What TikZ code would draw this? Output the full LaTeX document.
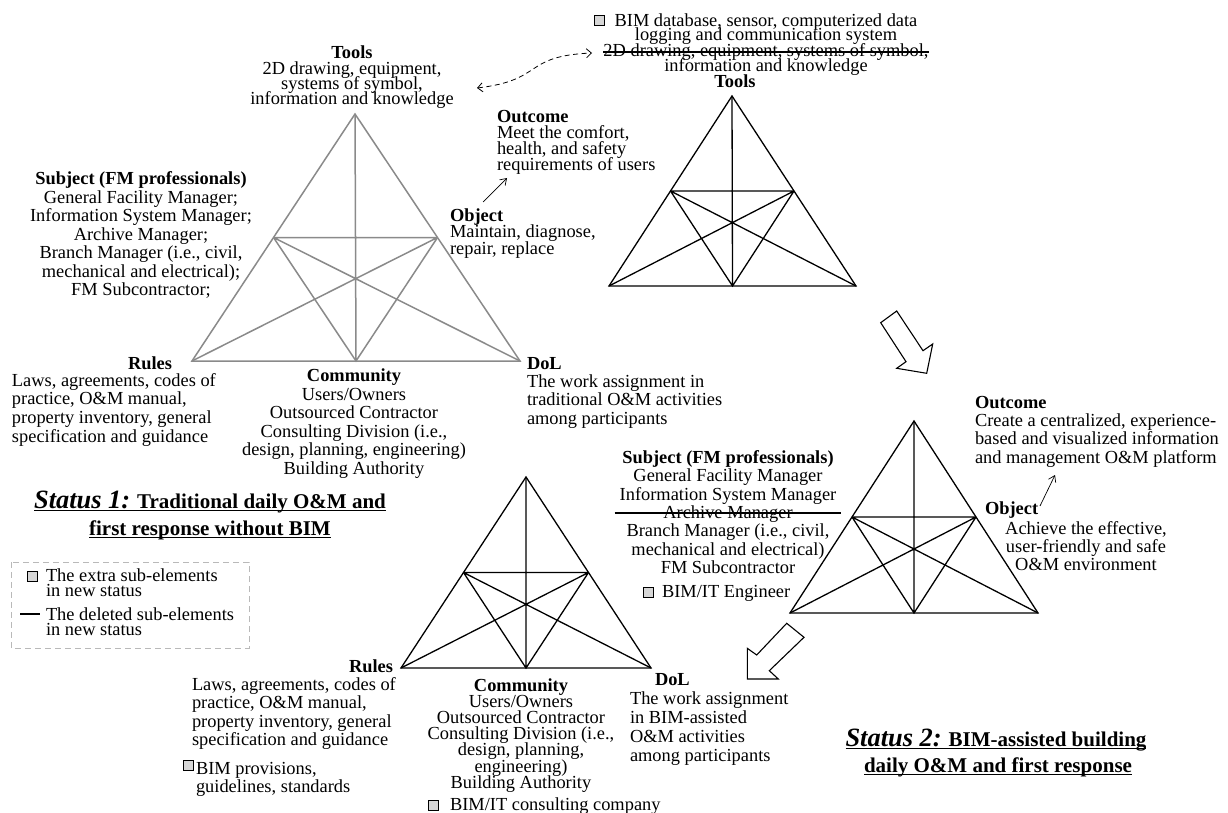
\documentclass[tikz,border=0pt]{standalone}
\usepackage{fontspec}
\setmainfont{Liberation Serif}
\usetikzlibrary{calc,arrows.meta}

\definecolor{trigrey}{RGB}{138,138,138}
\definecolor{boxgrey}{RGB}{215,215,215}
\definecolor{legendgrey}{RGB}{185,185,185}

% force the requested line spacing even for tightly set lines
\newcommand\tightlines{\lineskiplimit=-100pt\relax}

% activity-system triangle: outer triangle, mid-side triangle, medians
\newcommand\activitytri[5]{%
  \coordinate (#1T) at (#3);
  \coordinate (#1L) at (#4);
  \coordinate (#1R) at (#5);
  \coordinate (#1ml) at ($(#1T)!0.5!(#1L)$);
  \coordinate (#1mr) at ($(#1T)!0.5!(#1R)$);
  \coordinate (#1mb) at ($(#1L)!0.5!(#1R)$);
  \draw[#2] (#1T) -- (#1L) -- (#1R) -- cycle;
  \draw[#2] (#1ml) -- (#1mr) (#1T) -- (#1mb)
            (#1ml) -- (#1mb) -- (#1mr)
            (#1ml) -- (#1R) (#1mr) -- (#1L);
}

\tikzset{
  blk/.style={inner sep=0pt, outer sep=0pt, font=\fontsize{18.4}{#1}\selectfont\tightlines},
  blk/.default=18.4,
  tri/.style={line width=1.3pt, line join=miter, draw=black},
  trig/.style={line width=1.5pt, line join=miter, draw=trigrey},
  addbox/.style={draw=black, fill=boxgrey, line width=0.7pt, minimum size=10pt, inner sep=0pt},
  strike/.style={line width=2pt},
  ttl/.style={inner sep=0pt, outer sep=0pt, font=\fontsize{21}{26}\selectfont\bfseries},
  uline/.style={line width=1.3pt},
  smallarr/.style={-{Straight Barb[length=6pt,width=8pt]}, line width=0.7pt},
  bigarr/.style={draw=black, fill=white, line width=1.1pt, line join=miter},
  legend/.style={draw=legendgrey, line width=1pt, dash pattern=on 6pt off 4pt},
}

\begin{document}
\begin{tikzpicture}[x=1pt,y=-1pt]
\useasboundingbox (0,0) rectangle (1228,813);

% ---------------- Status 1: traditional O&M ----------------
\activitytri{a}{trig}{355,114}{192,361}{520,361}

\node[blk=15.4, align=center, anchor=north] (tools1) at (352,46)
  {\textbf{Tools}\\2D drawing, equipment,\\systems of symbol,\\information and knowledge};
\node[blk=18.5, align=center, anchor=north] (subj1) at (141,172)
  {\textbf{Subject (FM professionals)}\\General Facility Manager;\\Information System Manager;\\Archive Manager;\\Branch Manager (i.e., civil,\\mechanical and electrical);\\FM Subcontractor;};
\node[blk, anchor=base] (rules1h) at (150,369) {\textbf{Rules}};
\node[blk=18.6, align=left, anchor=north west] (rules1) at (12,373.4)
  {Laws, agreements, codes of\\practice, O\&M manual,\\property inventory, general\\specification and guidance};
\node[blk=18.5, align=center, anchor=north] (comm1) at (354,369)
  {\textbf{Community}\\Users/Owners\\Outsourced Contractor\\Consulting Division (i.e.,\\design, planning, engineering)\\Building Authority};
\node[blk=16.2, align=left, anchor=north west] (obj1) at (450,209)
  {\textbf{Object}\\Maintain, diagnose,\\repair, replace};
\node[blk=15.8, align=left, anchor=north west] (out1) at (497,110.5)
  {\textbf{Outcome}\\Meet the comfort,\\health, and safety\\requirements of users};
\node[blk=18.4, align=left, anchor=north west] (dol1) at (527,357)
  {\textbf{DoL}\\The work assignment in\\traditional O\&M activities\\among participants};

\coordinate (o1a) at (483,202);
\coordinate (u1a) at (507,178);
\draw[smallarr] (o1a) -- (u1a);

% link between the two tool descriptions
\coordinate (tl) at (477,88);
\coordinate (tr) at (592,53);
\draw[line width=0.8pt, dash pattern=on 5pt off 3.5pt,
      {Straight Barb[length=5pt,width=9pt]}-{Straight Barb[length=5pt,width=9pt]}]
  (tl) .. controls (545,80) and (522,56) .. (tr);

\node[ttl, anchor=base] (s1a) at (210,508)
  {{\fontsize{26.4}{26}\selectfont\itshape Status 1:} Traditional daily O\&M and};
\node[ttl, anchor=base] (s1b) at (210,535) {first response without BIM};
\draw[uline] ($(s1a.base west)+(0,2.2)$) -- ($(s1a.base east)+(0,2.2)$);
\draw[uline] ($(s1b.base west)+(0,2.2)$) -- ($(s1b.base east)+(0,2.2)$);

% ---------------- legend ----------------
\draw[legend] (11,562) rectangle (249,648);
\node[addbox] (sqL) at (32,576) {};
\node[blk=15.5, align=left, anchor=north west] (leg1) at (46,568.4)
  {The extra sub-elements\\in new status};
\draw[line width=1.5pt] (20,614) -- (40,614);
\node[blk=15.5, align=left, anchor=north west] (leg2) at (46,607.4)
  {The deleted sub-elements\\in new status};

% ---------------- transition arrows ----------------
\draw[bigarr] (880.7,322.7) -- (896.7,311) -- (923,350.7) -- (932.7,344)
  -- (926.7,373.3) -- (896.7,368.3) -- (906,361.7) -- cycle;
\draw[bigarr] (786.7,623.3) -- (804,637.3) -- (769.3,670.7) -- (778.3,679)
  -- (747.3,679) -- (747.3,648.3) -- (756.7,655) -- cycle;

% ---------------- Status 2: tools triangle ----------------
\activitytri{b}{tri}{732,96}{609,286}{856,286}

\node[addbox] (sq2) at (599.5,20.5) {};
\node[blk=14.5, align=center, anchor=north] (bim2) at (766,13.4)
  {BIM database, sensor, computerized data\\logging and communication system};
\node[blk, anchor=base] (old2) at (766,56.5) {2D drawing, equipment, systems of symbol,};
\draw[strike] ($(old2.base west)+(0,-4.3)$) -- ($(old2.base east)+(0,-4.3)$);
\node[blk, anchor=base] (info2) at (766,71.7) {information and knowledge};
\node[blk, anchor=base] (tools2) at (735,88) {\textbf{Tools}};

% ---------------- Status 2: subject / object triangle ----------------
\activitytri{c}{tri}{914,421}{790,613}{1038,613}

\node[blk=18.4, align=center, anchor=north] (subj2) at (728,450.3)
  {\textbf{Subject (FM professionals)}\\General Facility Manager\\Information System Manager\\Archive Manager\\Branch Manager (i.e., civil,\\mechanical and electrical)\\FM Subcontractor};
\draw[strike] ($(subj2.north west)+(-5,62.7)$) -- ($(subj2.north east)+(5,62.7)$);
\node[addbox] (sq3) at (648,592) {};
\node[blk, anchor=base west] (eng2) at (662,597) {BIM/IT Engineer};

\node[blk=18.3, align=left, anchor=north west] (out2) at (975,396)
  {\textbf{Outcome}\\Create a centralized, experience-\\based and visualized information\\and management O\&M platform};
\node[blk, anchor=base west] (obj2h) at (985,514) {\textbf{Object}};
\node[blk=17.9, align=center, anchor=north] (obj2) at (1086,521.5)
  {Achieve the effective,\\user-friendly and safe\\O\&M environment};
\coordinate (o2a) at (1040,506);
\coordinate (u2a) at (1055,475);
\draw[smallarr] (o2a) -- (u2a);

% ---------------- Status 2: rules / community / DoL triangle ----------------
\activitytri{d}{tri}{526,477}{401,668}{651,668}

\node[blk, anchor=base east] (rules4h) at (393,672) {\textbf{Rules}};
\node[blk=18.3, align=left, anchor=north west] (rules4) at (192,677.6)
  {Laws, agreements, codes of\\practice, O\&M manual,\\property inventory, general\\specification and guidance};
\node[addbox] (sq4a) at (188,765.5) {};
\node[blk=18.3, align=left, anchor=north west] (prov4) at (196,762)
  {BIM provisions,\\guidelines, standards};

\node[blk=16.1, align=center, anchor=north] (comm4) at (521,678.8)
  {\textbf{Community}\\Users/Owners\\Outsourced Contractor\\Consulting Division (i.e.,\\design, planning,\\engineering)\\Building Authority};
\node[addbox] (sq4b) at (433,805) {};
\node[blk, anchor=base west] (cons4) at (450,810) {BIM/IT consulting company};

\node[blk, anchor=base west] (dol4h) at (655,685.5) {\textbf{DoL}};
\node[blk=18.8, align=left, anchor=north west] (dol4) at (630,692)
  {The work assignment\\in BIM-assisted\\O\&M activities\\among participants};

\node[ttl, anchor=base] (s2a) at (996,746)
  {{\fontsize{26.4}{26}\selectfont\itshape Status 2:} BIM-assisted building};
\node[ttl, anchor=base] (s2b) at (998,772) {daily O\&M and first response};
\draw[uline] ($(s2a.base west)+(0,2.2)$) -- ($(s2a.base east)+(0,2.2)$);
\draw[uline] ($(s2b.base west)+(0,2.2)$) -- ($(s2b.base east)+(0,2.2)$);

\end{tikzpicture}
\end{document}
